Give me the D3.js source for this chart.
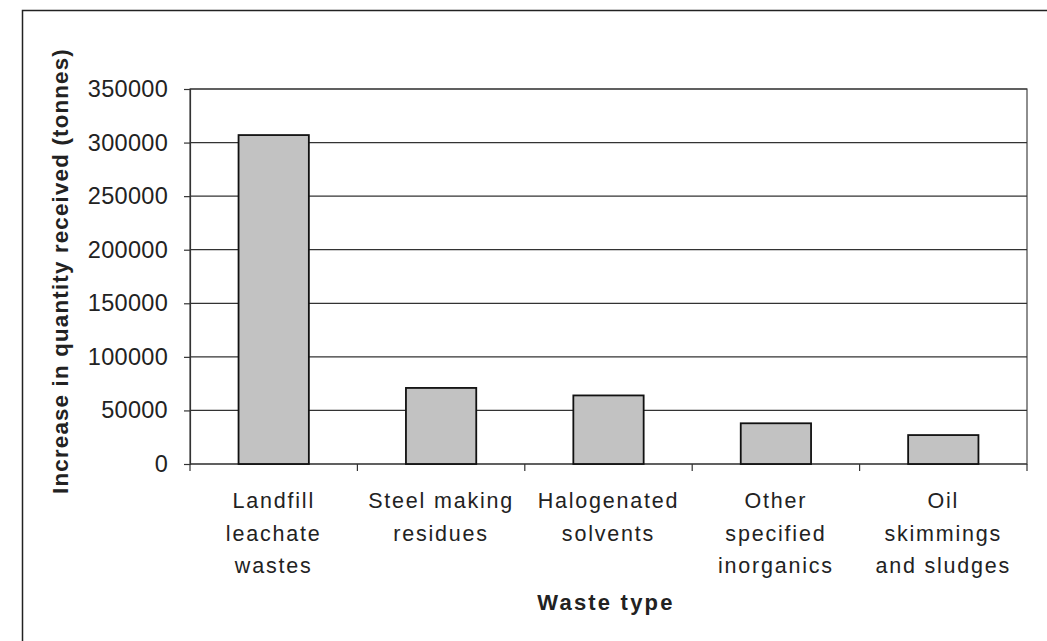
<!DOCTYPE html>
<html><head><meta charset="utf-8">
<script src="https://cdn.jsdelivr.net/npm/d3@7"></script>
<style>body{margin:0;background:#fff}svg{display:block}text{font-family:"Liberation Sans",Arial,sans-serif}</style>
</head><body>
<svg id="c" width="1047" height="641"></svg>
<script>
const categories = [
  ["Landfill","leachate","wastes"],
  ["Steel making","residues"],
  ["Halogenated","solvents"],
  ["Other","specified","inorganics"],
  ["Oil","skimmings","and sludges"]
];
const values = [307000, 71000, 64000, 38000, 27000];
const yTicks = [0,50000,100000,150000,200000,250000,300000,350000];
const yTitle = "Increase in quantity received (tonnes)";
const xTitle = "Waste type";

const svg = d3.select("#c");
const m = {left:190, right:1027, top:89, bottom:464};
const x = d3.scaleBand().domain(d3.range(categories.length)).range([m.left, m.right]).paddingInner(0.58).paddingOuter(0.29);
const xb = d3.scaleBand().domain(d3.range(categories.length)).range([m.left, m.right]);
const y = d3.scaleLinear().domain([0,350000]).range([m.bottom, m.top]);

// outer frame (left + top)
svg.append("path").attr("d",`M22.5,641 V10.5 H1047`).attr("fill","none").attr("stroke","#222").attr("stroke-width",1.5);

// plot area
svg.append("rect").attr("x",m.left).attr("y",m.top).attr("width",m.right-m.left).attr("height",m.bottom-m.top)
  .attr("fill","none").attr("stroke","#444").attr("stroke-width",1.2);

// gridlines
svg.append("g").selectAll("line").data(yTicks).join("line")
  .attr("x1",m.left).attr("x2",m.right).attr("y1",d=>y(d)).attr("y2",d=>y(d))
  .attr("stroke","#333").attr("stroke-width",1.2);

// y axis
const ya = svg.append("g").attr("transform",`translate(${m.left},0)`)
  .call(d3.axisLeft(y).tickValues(yTicks).tickSize(6).tickPadding(16).tickFormat(d3.format("d")));
ya.select(".domain").attr("stroke","#333").attr("stroke-width",1.2);
ya.selectAll(".tick line").attr("stroke","#333").attr("stroke-width",1.2);
ya.selectAll("text").attr("font-size",23.5).attr("fill","#222").attr("letter-spacing",0.3)
  .attr("font-family","Liberation Sans, Arial, sans-serif");

// x axis ticks at band boundaries
const bounds = d3.range(categories.length+1).map(i => i<categories.length ? xb(i) : m.right);
svg.append("g").selectAll("line").data(bounds).join("line")
  .attr("x1",d=>d).attr("x2",d=>d).attr("y1",m.bottom).attr("y2",m.bottom+7)
  .attr("stroke","#333").attr("stroke-width",1.2);

// bars
svg.append("g").selectAll("rect").data(values).join("rect")
  .attr("x",(d,i)=>x(i)).attr("width",x.bandwidth())
  .attr("y",d=>y(d)).attr("height",d=>y(0)-y(d))
  .attr("fill","#c2c2c2").attr("stroke","#111").attr("stroke-width",1.8);

// x labels
const xl = svg.append("g").selectAll("text").data(categories).join("text")
  .attr("text-anchor","middle").attr("font-size",21.5).attr("fill","#222").attr("letter-spacing",1.8)
  .attr("x",(d,i)=>xb(i)+xb.bandwidth()/2).attr("y",508);
xl.selectAll("tspan").data(d=>d).join("tspan")
  .attr("x",function(){return this.parentNode.getAttribute("x");})
  .attr("dy",(d,i)=>i===0?0:32.5).text(d=>d);

// titles
svg.append("text").attr("x",606).attr("y",610).attr("text-anchor","middle")
  .attr("font-size",22).attr("font-weight","bold").attr("fill","#222").attr("letter-spacing",2.2).text(xTitle);
svg.append("text").attr("transform",`translate(68,271) rotate(-90)`)
  .attr("text-anchor","middle").attr("font-size",22.3).attr("font-weight","bold").attr("fill","#222").attr("letter-spacing",1.2).text(yTitle);
</script>
</body></html>
